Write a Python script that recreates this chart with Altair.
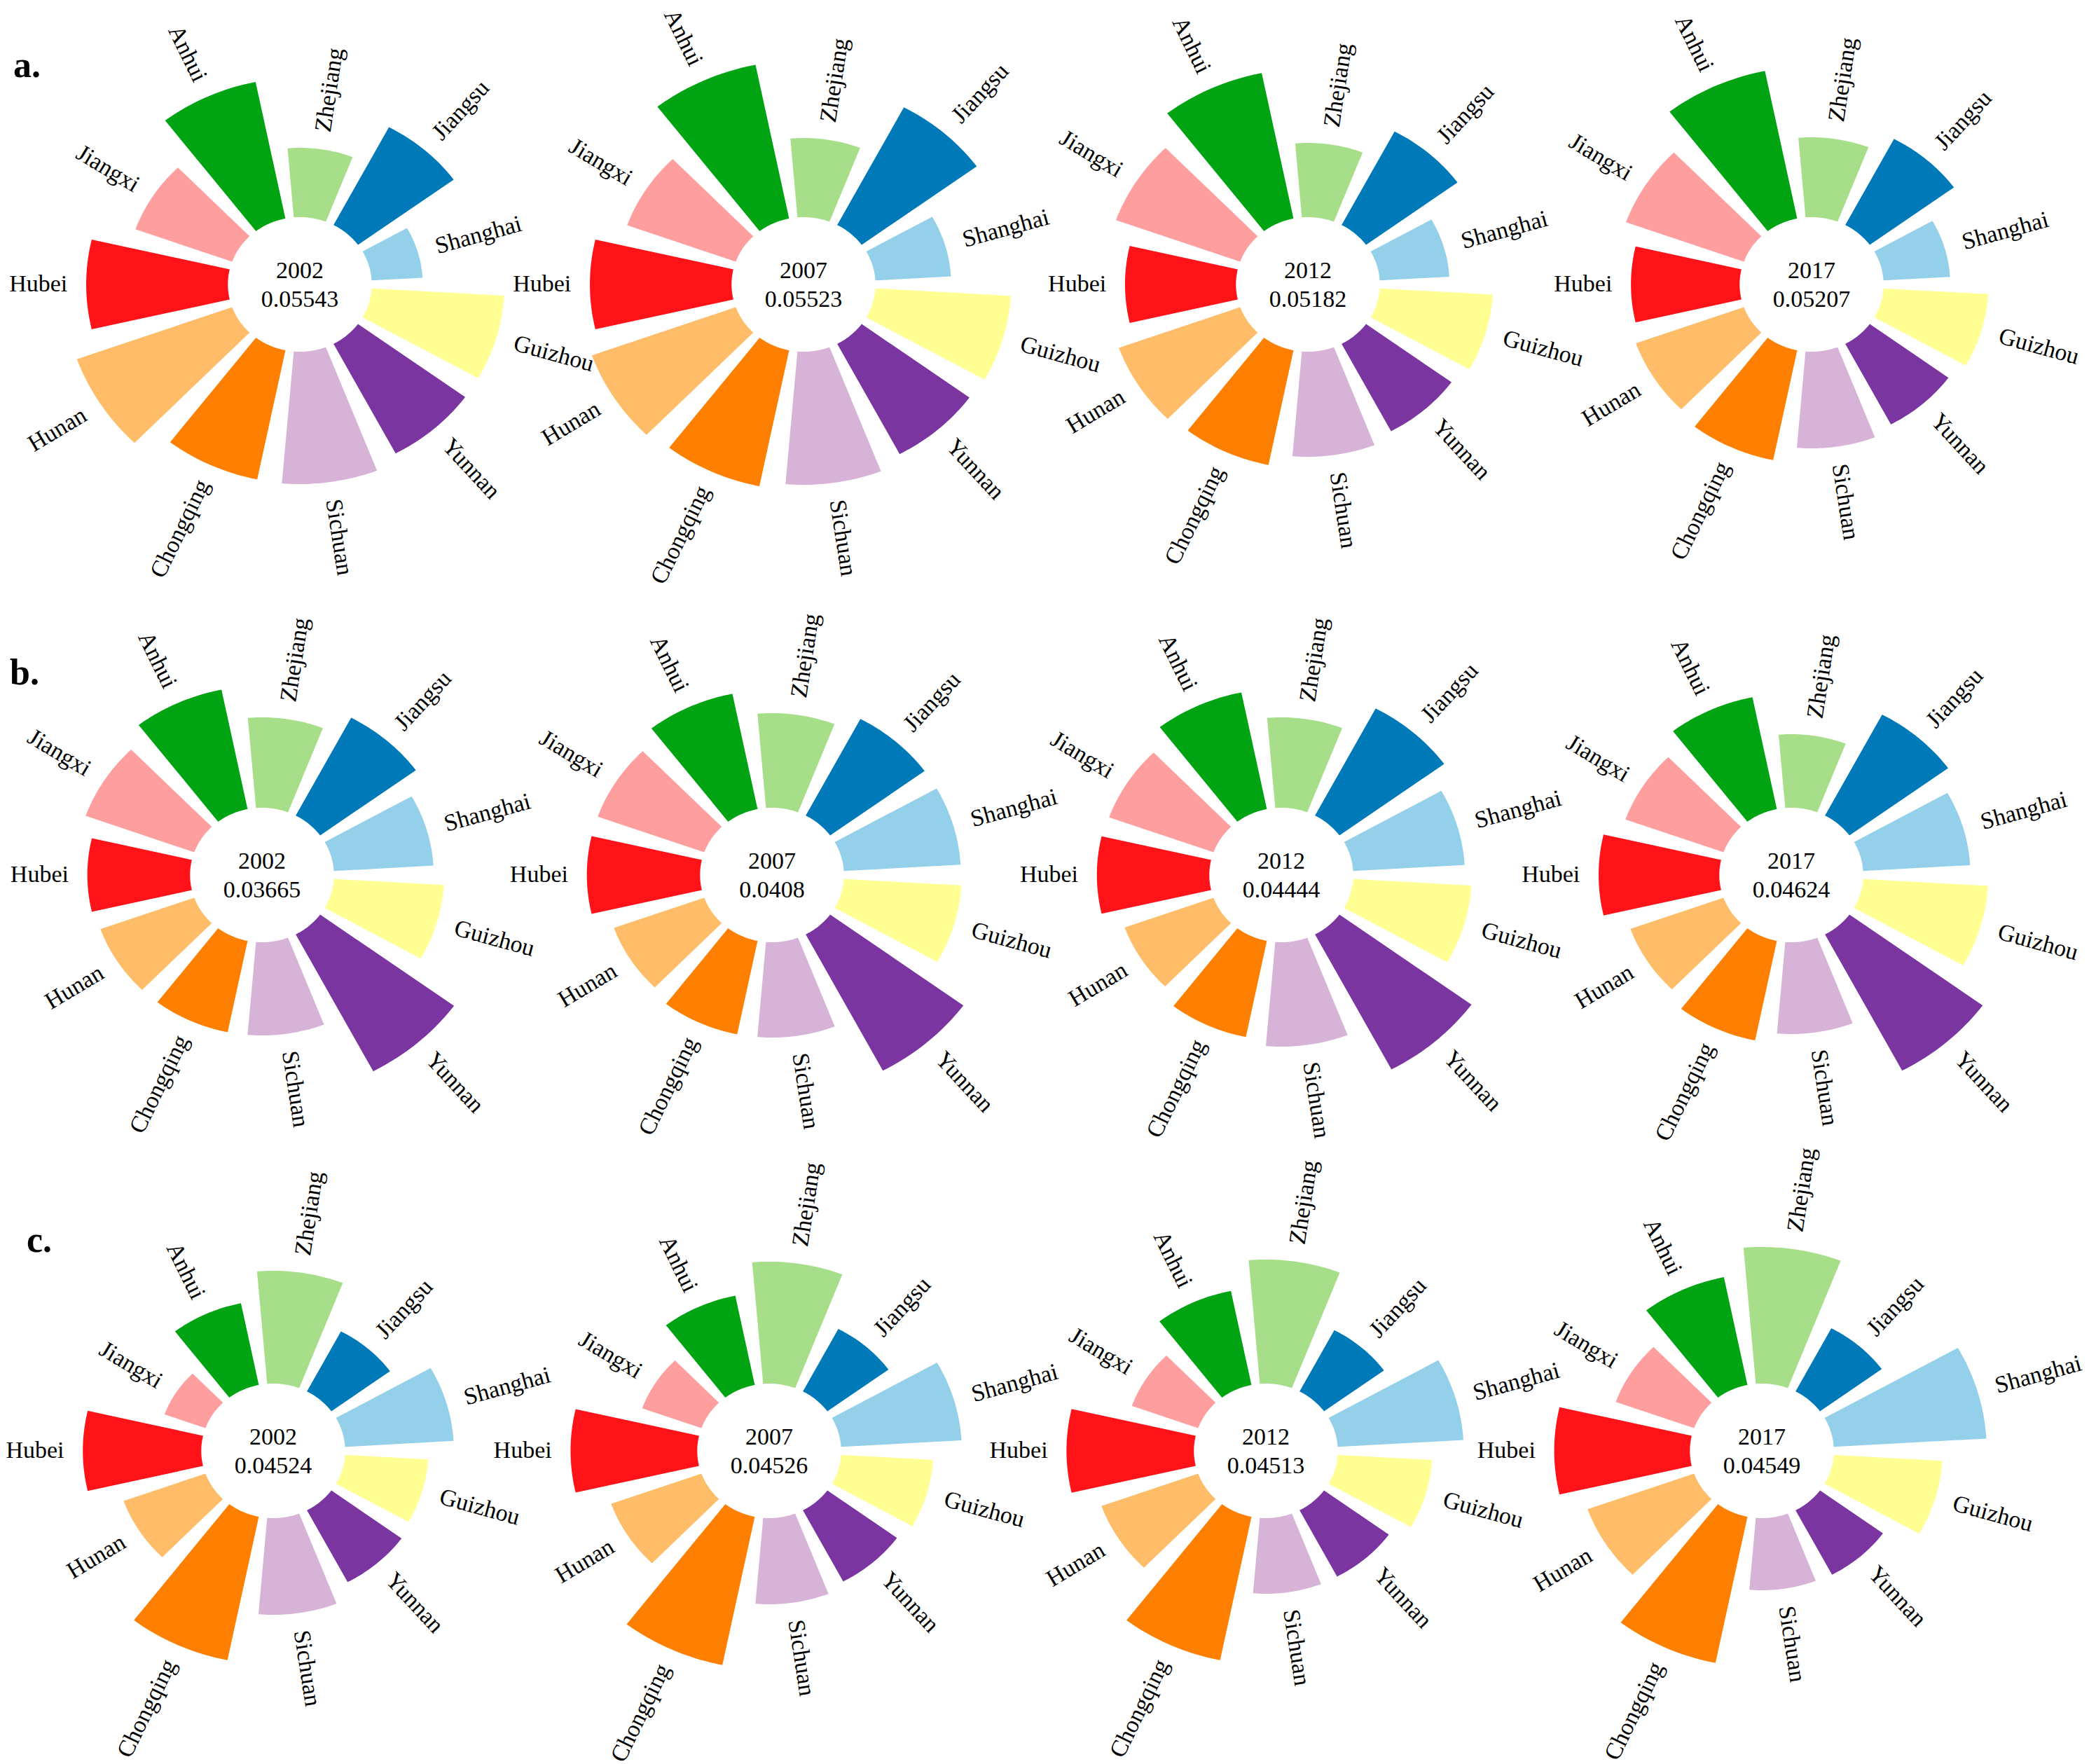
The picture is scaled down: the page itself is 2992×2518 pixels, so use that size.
import altair as alt
import pandas as pd

# ---------------- data ----------------
PROVINCES = ["Hubei", "Jiangxi", "Anhui", "Zhejiang", "Jiangsu", "Shanghai",
             "Guizhou", "Yunnan", "Sichuan", "Chongqing", "Hunan"]
COLORS = ["#FF1318", "#FF9E9E", "#00A412", "#A6DE8A", "#0079B8", "#94D0E9",
          "#FFFF94", "#7A35A0", "#D7B4D7", "#FF7F00", "#FFBD69"]
YEARS = ["2002", "2007", "2012", "2017"]
ROW_TAGS = ["a.", "b.", "c."]

A_2002 = [0.189, 0.137, 0.199, 0.099, 0.158, 0.068, 0.177, 0.177, 0.189, 0.188, 0.220]
A_2007 = [0.189, 0.154, 0.224, 0.113, 0.190, 0.101, 0.181, 0.178, 0.190, 0.198, 0.204]
A_2012 = [0.148, 0.176, 0.212, 0.106, 0.151, 0.093, 0.151, 0.141, 0.150, 0.167, 0.172]
A_2017 = [0.145, 0.167, 0.215, 0.114, 0.139, 0.089, 0.140, 0.130, 0.138, 0.160, 0.153]

B_2002 = [0.137, 0.154, 0.174, 0.129, 0.158, 0.133, 0.147, 0.221, 0.133, 0.133, 0.133]
B_2007 = [0.151, 0.151, 0.168, 0.135, 0.156, 0.156, 0.157, 0.220, 0.136, 0.136, 0.128]
B_2012 = [0.150, 0.148, 0.170, 0.129, 0.173, 0.149, 0.158, 0.218, 0.149, 0.140, 0.126]
B_2017 = [0.161, 0.139, 0.163, 0.105, 0.163, 0.143, 0.167, 0.220, 0.131, 0.145, 0.132]

C_2002 = [0.158, 0.058, 0.119, 0.161, 0.097, 0.145, 0.111, 0.116, 0.138, 0.209, 0.116]
C_2007 = [0.169, 0.084, 0.130, 0.174, 0.101, 0.161, 0.123, 0.115, 0.123, 0.216, 0.128]
C_2012 = [0.170, 0.094, 0.137, 0.177, 0.099, 0.168, 0.126, 0.107, 0.108, 0.209, 0.137]
C_2017 = [0.181, 0.111, 0.157, 0.195, 0.102, 0.204, 0.145, 0.104, 0.103, 0.213, 0.151]

TOTAL_A = ["0.05543", "0.05523", "0.05182", "0.05207"]
TOTAL_B = ["0.03665", "0.0408", "0.04444", "0.04624"]
TOTAL_C = ["0.04524", "0.04526", "0.04513", "0.04549"]

VALUES = [[A_2002, A_2007, A_2012, A_2017],
          [B_2002, B_2007, B_2012, B_2017],
          [C_2002, C_2007, C_2012, C_2017]]
TOTALS = [TOTAL_A, TOTAL_B, TOTAL_C]

# ---------------- layout / style ----------------
W = 744
ROW_H = [830, 822, 850]
CENTERS = [[(420, 394), (395, 394), (371, 394), (346, 394)],
           [(366, 407), (350, 407), (333, 407), (317, 407)],
           [(382, 407), (346, 407), (311, 407), (275, 407)]]
TAG_POS = [(11, 98), (6, 135), (30, 123)]
K = 1.07          # horizontal stretch of the panels
R0 = 96           # hole radius
PX = 1000         # radial units per value unit
HW = 13.0 * 3.141592653589793 / 180   # half width of a wedge
NP = 24
PAD = 25
FONT = "Liberation Serif"
FS = 34


def panel(r, c):
    df = pd.DataFrame({"province": PROVINCES, "idx": list(range(11)),
                       "value": VALUES[r][c]})
    cx, cy = CENTERS[r][c]
    H = ROW_H[r]
    xs = alt.Scale(domain=[-cx / K, (W - cx) / K], nice=False, zero=False)
    ys = alt.Scale(domain=[-(H - cy), cy], nice=False, zero=False)

    base = alt.Chart(df).transform_calculate(
        theta="(270 + datum.idx * 360 / 11) * PI / 180",
        rout=f"{R0} + datum.value * {PX}",
    )

    wedges = base.transform_calculate(
        k=f"sequence(0, {2 * NP + 2})"
    ).transform_flatten(["k"]).transform_calculate(
        t=f"datum.k <= {NP} ? datum.k / {NP} : (datum.k - {NP} - 1) / {NP}"
    ).transform_calculate(
        a=f"datum.k <= {NP} ? datum.theta - {HW} + 2 * {HW} * datum.t : datum.theta + {HW} - 2 * {HW} * datum.t",
        rr=f"datum.k <= {NP} ? datum.rout : {R0}",
    ).transform_calculate(
        px="datum.rr * sin(datum.a)",
        py="datum.rr * cos(datum.a)",
    ).mark_line(filled=True, strokeWidth=0).encode(
        x=alt.X("px:Q", scale=xs, axis=None),
        y=alt.Y("py:Q", scale=ys, axis=None),
        order=alt.Order("k:Q"),
        color=alt.Color("province:N",
                        scale=alt.Scale(domain=PROVINCES, range=COLORS),
                        legend=None),
        detail="province:N",
    )

    lab = base.transform_calculate(
        rl=f"datum.rout + {PAD}",
    ).transform_calculate(
        lx="datum.rl * sin(datum.theta)",
        ly="datum.rl * cos(datum.theta)",
        side="sin(datum.theta) > 0 ? 1 : 0",
    ).transform_calculate(
        rot=f"(datum.side == 1 ? atan2(-cos(datum.theta), {K} * sin(datum.theta)) : atan2(cos(datum.theta), -{K} * sin(datum.theta))) * 180 / PI",
    ).transform_calculate(
        rot2="(datum.rot + 360) % 360"
    )
    lab_enc = dict(
        x=alt.X("lx:Q", scale=xs, axis=None),
        y=alt.Y("ly:Q", scale=ys, axis=None),
        angle=alt.Angle("rot2:Q", scale=None),
        text="province:N",
    )
    right_lab = lab.transform_filter("datum.side == 1").mark_text(
        align="left", baseline="middle", font=FONT, fontSize=FS, color="black"
    ).encode(**lab_enc)
    left_lab = lab.transform_filter("datum.side == 0").mark_text(
        align="right", baseline="middle", font=FONT, fontSize=FS, color="black"
    ).encode(**lab_enc)

    cdf = pd.DataFrame({"year": [YEARS[c]], "score": [TOTALS[r][c]]})
    cbase = alt.Chart(cdf).transform_calculate(zx="0", zy="0")
    cenc = dict(x=alt.X("zx:Q", scale=xs, axis=None),
                y=alt.Y("zy:Q", scale=ys, axis=None))
    year_t = cbase.mark_text(align="center", baseline="middle", font=FONT,
                             fontSize=FS, dy=-19.5, color="black").encode(
        text="year:N", **cenc)
    score_t = cbase.mark_text(align="center", baseline="middle", font=FONT,
                              fontSize=FS, dy=22, color="black").encode(
        text="score:N", **cenc)

    layers = [wedges, right_lab, left_lab, year_t, score_t]
    if c == 0:
        tx, ty = TAG_POS[r]
        tag = alt.Chart(pd.DataFrame({"tag": [ROW_TAGS[r]]})).mark_text(
            align="left", baseline="alphabetic", font=FONT, fontSize=52,
            fontWeight="bold", color="black"
        ).encode(x=alt.value(tx), y=alt.value(ty), text="tag:N")
        layers.append(tag)
    return alt.layer(*layers).properties(width=W, height=H)


panels = [panel(r, c) for r in range(3) for c in range(4)]
chart = alt.concat(*panels, columns=4, spacing=0, bounds="flush").properties(
    padding=0
).configure_view(strokeWidth=0)

chart.save("out.html", embed_options={"renderer": "svg", "actions": False})
